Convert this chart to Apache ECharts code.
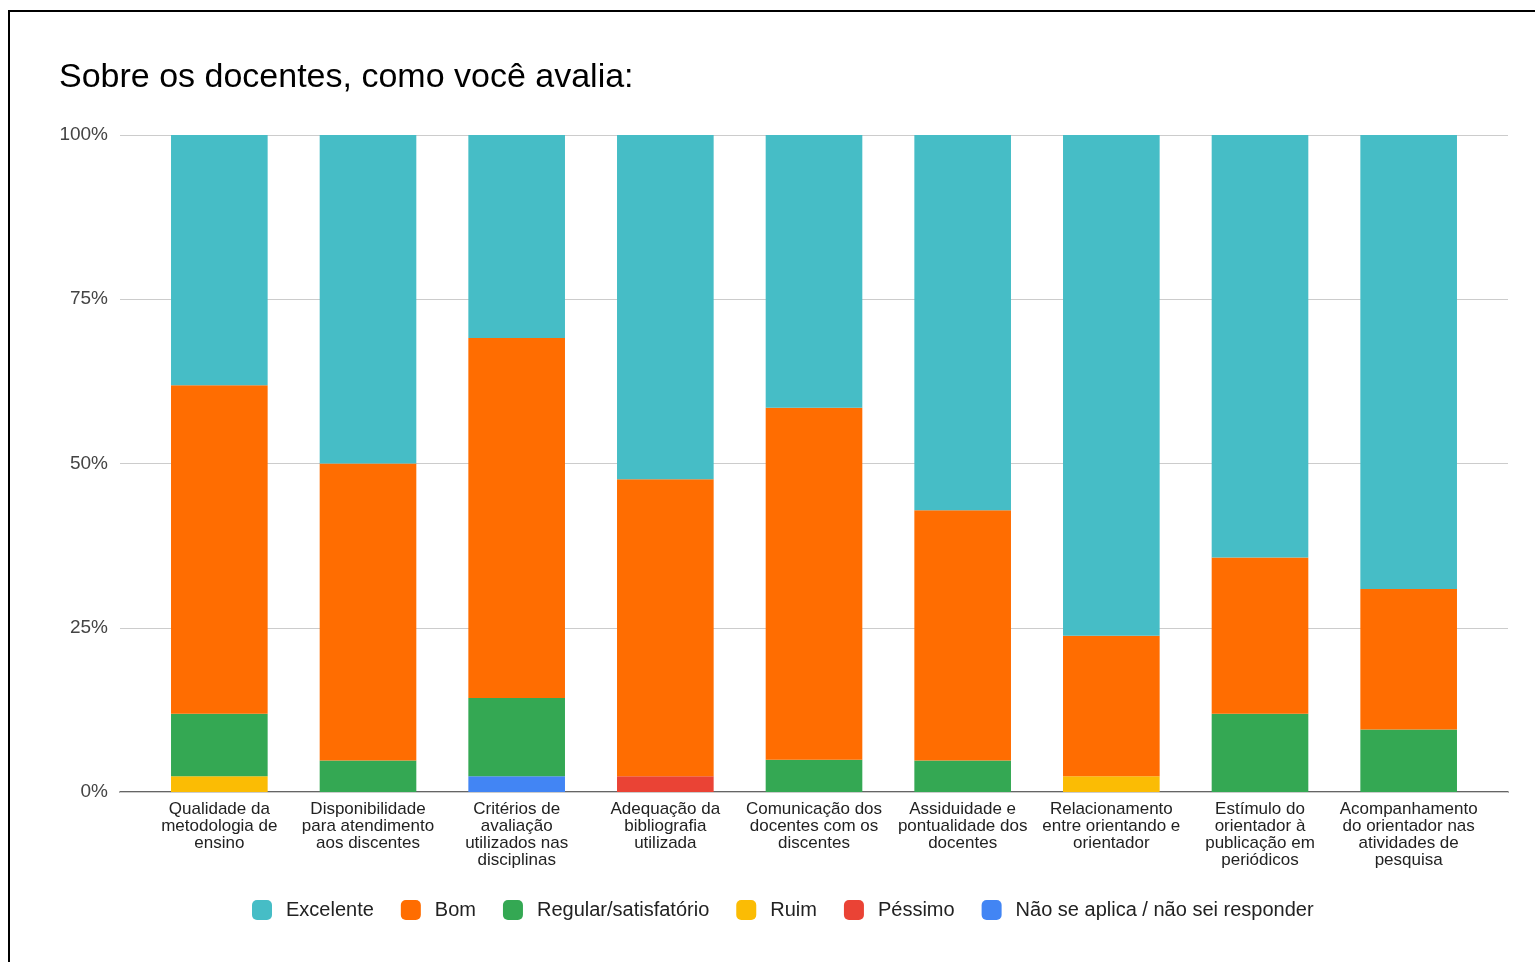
<!DOCTYPE html>
<html>
<head>
<meta charset="utf-8">
<title>Sobre os docentes, como você avalia</title>
<script src="https://cdn.jsdelivr.net/npm/echarts@6/dist/echarts.min.js"></script>
<style>
  html, body { margin: 0; padding: 0; width: 1535px; height: 962px; overflow: hidden; background: #fff; }
  #frame { position: absolute; left: 8px; top: 10px; width: 1600px; height: 1000px; border: 2px solid #000; box-sizing: border-box; }
  #chart { position: absolute; left: 0; top: 0; width: 1535px; height: 962px; }
</style>
</head>
<body>
<div id="frame"></div>
<div id="chart"></div>
<script>
// Items evaluated (axis tick labels, wrapped as displayed)
const categories = [
  'Qualidade da\nmetodologia de\nensino',
  'Disponibilidade\npara atendimento\naos discentes',
  'Critérios de\navaliação\nutilizados nas\ndisciplinas',
  'Adequação da\nbibliografia\nutilizada',
  'Comunicação dos\ndocentes com os\ndiscentes',
  'Assiduidade e\npontualidade dos\ndocentes',
  'Relacionamento\nentre orientando e\norientador',
  'Estímulo do\norientador à\npublicação em\nperiódicos',
  'Acompanhamento\ndo orientador nas\natividades de\npesquisa'
];

// Share of answers (%) per rating
const excelente = [38.1, 50.0, 30.9, 52.4, 41.5, 57.1, 76.2, 64.3, 69.1];
const bom       = [50.0, 45.2, 54.8, 45.2, 53.6, 38.1, 21.4, 23.8, 21.4];
const regular   = [9.5, 4.8, 11.9, 0, 4.9, 4.8, 0, 11.9, 9.5];
const ruim      = [2.4, 0, 0, 0, 0, 0, 2.4, 0, 0];
const pessimo   = [0, 0, 0, 2.4, 0, 0, 0, 0, 0];
const naoSeAplica = [0, 0, 2.4, 0, 0, 0, 0, 0, 0];

const yTicks = [0, 25, 50, 75, 100];

const FONT = '"Liberation Sans", Arial, sans-serif';

// Stack order bottom → top
const stackSeries = [
  { name: 'Não se aplica / não sei responder', data: naoSeAplica, color: '#4285F4' },
  { name: 'Péssimo', data: pessimo, color: '#EA4335' },
  { name: 'Ruim', data: ruim, color: '#FBBC04' },
  { name: 'Regular/satisfatório', data: regular, color: '#34A853' },
  { name: 'Bom', data: bom, color: '#FF6D01' },
  { name: 'Excelente', data: excelente, color: '#46BDC6' }
];

const chart = echarts.init(document.getElementById('chart'), null, { renderer: 'canvas' });

chart.setOption({
  backgroundColor: 'transparent',
  animation: false,
  title: {
    text: 'Sobre os docentes, como você avalia:',
    left: 54,
    top: 56,
    textStyle: { fontFamily: FONT, fontSize: 34, fontWeight: 'normal', color: '#000' }
  },
  legend: {
    data: ['Excelente', 'Bom', 'Regular/satisfatório', 'Ruim', 'Péssimo', 'Não se aplica / não sei responder'],
    left: 247,
    top: 895,
    icon: 'roundRect',
    itemWidth: 20,
    itemHeight: 20,
    itemGap: 27,
    textStyle: { fontFamily: FONT, fontSize: 20, color: '#222', padding: [0, 0, 0, 9] }
  },
  // grid 0: full-width frame with gridlines, baseline and percentage labels
  // grid 1: inset band where the bars and category labels sit
  grid: [
    { left: 120, right: 27, top: 135, bottom: 170, containLabel: false },
    { left: 145, right: 52, top: 135, bottom: 170, containLabel: false }
  ],
  xAxis: [
    {
      gridIndex: 0,
      type: 'value',
      min: 0,
      max: 1,
      axisLine: { show: true, onZero: false, lineStyle: { color: '#333', width: 1.5 } },
      axisTick: { show: false },
      axisLabel: { show: false },
      splitLine: { show: false }
    },
    {
      gridIndex: 1,
      type: 'category',
      data: categories,
      axisTick: { show: false },
      axisLine: { show: false },
      axisLabel: {
        interval: 0,
        margin: 9,
        fontFamily: FONT,
        fontSize: 17,
        lineHeight: 17,
        color: '#222',
        align: 'center'
      }
    }
  ],
  yAxis: [
    {
      gridIndex: 0,
      type: 'value',
      min: yTicks[0],
      max: yTicks[yTicks.length - 1],
      interval: 25,
      axisLine: { show: false },
      axisTick: { show: false },
      splitLine: { lineStyle: { color: '#cccccc', width: 1 } },
      axisLabel: {
        margin: 12,
        fontFamily: FONT,
        fontSize: 19,
        color: '#444',
        formatter: '{value}%'
      },
      z: 1
    },
    {
      gridIndex: 1,
      type: 'value',
      min: yTicks[0],
      max: yTicks[yTicks.length - 1],
      interval: 25,
      show: false
    }
  ],
  series: stackSeries.map(s => ({
    name: s.name,
    type: 'bar',
    xAxisIndex: 1,
    yAxisIndex: 1,
    stack: 'total',
    data: s.data,
    barWidth: '65%',
    itemStyle: { color: s.color },
    emphasis: { disabled: true }
  }))
});
</script>
</body>
</html>
